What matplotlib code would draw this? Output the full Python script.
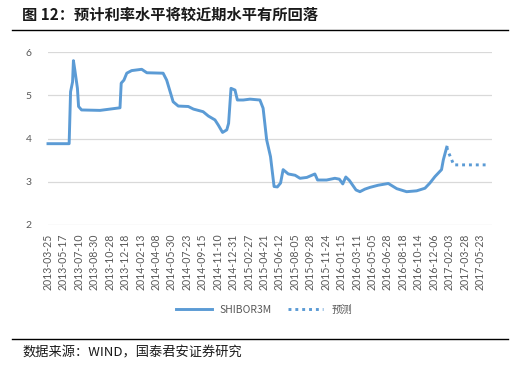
import numpy as np
import pandas as pd
import matplotlib
matplotlib.use('Agg')
import matplotlib.pyplot as plt
from matplotlib.lines import Line2D

plt.rcParams['font.family'] = ['Noto Sans CJK SC', 'DejaVu Sans']

# 横轴刻度（Excel 类别轴，等间距显示）
tick_dates = ['2013-03-25', '2013-05-17', '2013-07-10', '2013-08-30', '2013-10-28',
              '2013-12-18', '2014-02-13', '2014-04-08', '2014-05-30', '2014-07-23',
              '2014-09-15', '2014-11-10', '2014-12-31', '2015-02-27', '2015-04-21',
              '2015-06-12', '2015-08-05', '2015-09-28', '2015-11-24', '2016-01-15',
              '2016-03-11', '2016-05-05', '2016-06-28', '2016-08-18', '2016-10-14',
              '2016-12-06', '2017-02-03', '2017-03-28', '2017-05-23']

# SHIBOR3M 历史数据
shibor_dates = ['2013-03-25', '2013-06-06', '2013-06-11', '2013-06-18', '2013-06-21',
                '2013-06-26', '2013-07-05', '2013-07-09', '2013-07-19', '2013-09-21',
                '2013-10-29', '2013-12-01', '2013-12-05', '2013-12-14', '2013-12-24',
                '2014-01-11', '2014-02-17', '2014-03-07', '2014-05-02', '2014-05-14',
                '2014-06-05', '2014-06-23', '2014-07-28', '2014-08-15', '2014-09-18',
                '2014-10-07', '2014-10-31', '2014-11-12', '2014-11-26', '2014-12-10',
                '2014-12-16', '2014-12-24', '2015-01-07', '2015-01-16', '2015-02-07',
                '2015-03-04', '2015-04-07', '2015-04-18', '2015-04-30', '2015-05-13',
                '2015-05-25', '2015-06-05', '2015-06-16', '2015-06-25', '2015-07-13',
                '2015-08-06', '2015-08-23', '2015-09-16', '2015-10-15', '2015-10-25',
                '2015-11-27', '2015-12-25', '2016-01-09', '2016-01-21', '2016-02-01',
                '2016-02-14', '2016-03-09', '2016-03-23', '2016-04-10', '2016-04-28',
                '2016-05-27', '2016-07-01', '2016-07-29', '2016-09-01', '2016-10-08',
                '2016-11-06', '2016-11-23', '2016-12-11', '2017-01-05', '2017-01-12',
                '2017-01-25']
shibor_values = [3.88, 3.88, 5.08, 5.31, 5.80,
                 5.58, 5.16, 4.74, 4.66, 4.65,
                 4.68, 4.71, 5.28, 5.35, 5.51,
                 5.57, 5.60, 5.52, 5.51, 5.35,
                 4.85, 4.75, 4.74, 4.68, 4.62,
                 4.52, 4.43, 4.31, 4.14, 4.20,
                 4.35, 5.16, 5.12, 4.89, 4.89,
                 4.91, 4.89, 4.70, 3.97, 3.58,
                 2.89, 2.88, 2.97, 3.28, 3.18,
                 3.15, 3.08, 3.10, 3.18, 3.04,
                 3.04, 3.08, 3.06, 2.95, 3.11,
                 3.03, 2.81, 2.77, 2.83, 2.87,
                 2.92, 2.96, 2.84, 2.77, 2.79,
                 2.85, 2.97, 3.12, 3.28, 3.51,
                 3.80]

# 预测
forecast_dates = ['2017-01-25', '2017-02-02', '2017-02-11', '2017-02-19', '2017-06-16']
forecast_values = [3.80, 3.66, 3.52, 3.39, 3.39]

BLUE = '#5B9BD5'
GRAY = '#595959'
DOTS = (0, (1, 1.35))


def to_pos(dates):
    """把日期换算到等间距的类别轴位置，超出最后刻度的按最后一段间距外推"""
    t = pd.to_datetime(tick_dates).map(pd.Timestamp.toordinal).values
    d = pd.to_datetime(dates).map(pd.Timestamp.toordinal).values
    pos = np.interp(d, t, np.arange(len(tick_dates)))
    last = d > t[-1]
    pos[last] = len(tick_dates) - 1 + (d[last] - t[-1]) / (t[-1] - t[-2])
    return pos


fig = plt.figure(figsize=(5.18, 3.70), dpi=100)
ax = fig.add_axes([48 / 518, 1 - 225 / 370, 444 / 518, 173 / 370])

ax.plot(to_pos(shibor_dates), shibor_values, color=BLUE, linewidth=2.1,
        solid_joinstyle='round', clip_on=False)
ax.plot(to_pos(forecast_dates), forecast_values, color=BLUE, linewidth=2.1,
        linestyle=DOTS, clip_on=False)

ax.set_ylim(2, 6)
ax.set_yticks([2, 3, 4, 5, 6])
ax.set_xlim(0, 28.78)
ax.set_xticks(np.arange(len(tick_dates)))
ax.set_xticklabels(tick_dates, rotation=90, fontsize=7.6, color=GRAY, family=['Lato', 'DejaVu Sans'])
for lab in ax.get_yticklabels():
    lab.set_fontsize(7.5)
    lab.set_color(GRAY)
    lab.set_family(['Lato', 'DejaVu Sans'])
ax.tick_params(length=0, pad=6)
ax.tick_params(axis='y', pad=12)
ax.grid(axis='y', color='#D9D9D9', linewidth=0.9)
ax.set_axisbelow(True)
for s in ax.spines.values():
    s.set_visible(False)

# 图例
handles = [Line2D([], [], color=BLUE, linewidth=2.1),
           Line2D([], [], color=BLUE, linewidth=2.1, linestyle=DOTS)]
fig.legend(handles, ['SHIBOR3M', '预测'], loc='center', bbox_to_anchor=(0.51, 1 - 310 / 370),
           ncol=2, frameon=False, fontsize=7.5, handlelength=3.4, columnspacing=1.5,
           labelcolor=GRAY)

# 标题与来源
fig.text(22 / 518, 1 - 15 / 370, '图 12：预计利率水平将较近期水平有所回落', fontsize=11,
         fontweight='bold', va='center', ha='left', color='#1a1a1a')
fig.add_artist(Line2D([12 / 518, 508 / 518], [1 - 30 / 370, 1 - 30 / 370], color='black', linewidth=1.0))
fig.add_artist(Line2D([12 / 518, 508 / 518], [1 - 339 / 370, 1 - 339 / 370], color='black', linewidth=1.0))
fig.text(22 / 518, 1 - 353 / 370, '数据来源：WIND，国泰君安证券研究', fontsize=9.5,
         va='center', ha='left', color='#1a1a1a')

fig.savefig('out.png', dpi=100)
